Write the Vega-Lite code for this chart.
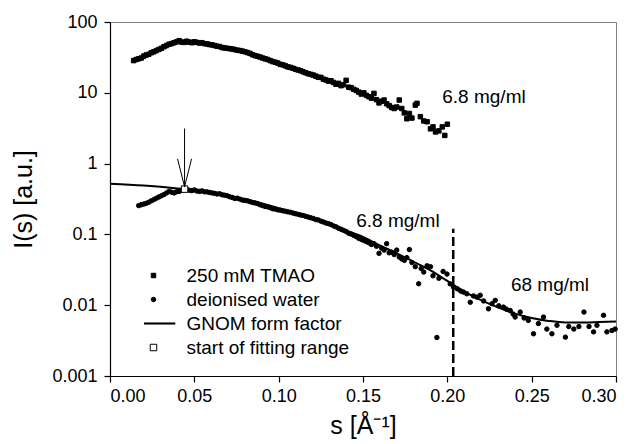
{
  "$schema": "https://vega.github.io/schema/vega-lite/v6.json",
  "autosize": {"type": "none"},
  "width": 506,
  "height": 354,
  "padding": {"left": 110, "top": 22, "right": 19, "bottom": 68},
  "background": "white",
  "config": {
    "view": {"stroke": "#808080", "strokeWidth": 1},
    "font": "Liberation Sans",
    "axis": {
      "domainColor": "black", "domainWidth": 1.2, "tickColor": "black", "tickWidth": 1.2,
      "tickSize": 6, "grid": false, "labelFont": "Liberation Sans", "labelFontSize": 18,
      "labelColor": "black", "titleFont": "Liberation Sans", "titleFontSize": 25,
      "titleFontWeight": "normal", "titleColor": "black"
    },
    "legend": {
      "orient": "none", "legendX": 34, "legendY": 243, "title": null,
      "labelFont": "Liberation Sans", "labelFontSize": 19, "labelColor": "black", "labelLimit": 400,
      "labelOffset": 23.5, "rowPadding": 3, "clipHeight": 21, "symbolSize": 20, "symbolStrokeWidth": 1, "symbolOpacity": 1
    }
  },
  "datasets": {
    "pts": [
      {"series":"250 mM TMAO","s":0.0140,"I":28.5},{"series":"250 mM TMAO","s":0.0155,"I":29.5},{"series":"250 mM TMAO","s":0.0170,"I":30.2},{"series":"250 mM TMAO","s":0.0185,"I":31.0},{"series":"250 mM TMAO","s":0.0200,"I":33.0},
      {"series":"250 mM TMAO","s":0.0215,"I":34.2},{"series":"250 mM TMAO","s":0.0230,"I":35.0},{"series":"250 mM TMAO","s":0.0245,"I":36.8},{"series":"250 mM TMAO","s":0.0260,"I":38.0},{"series":"250 mM TMAO","s":0.0275,"I":39.5},
      {"series":"250 mM TMAO","s":0.0290,"I":41.0},{"series":"250 mM TMAO","s":0.0305,"I":42.5},{"series":"250 mM TMAO","s":0.0320,"I":44.8},{"series":"250 mM TMAO","s":0.0335,"I":46.5},{"series":"250 mM TMAO","s":0.0350,"I":48.5},
      {"series":"250 mM TMAO","s":0.0365,"I":49.5},{"series":"250 mM TMAO","s":0.0380,"I":51.0},{"series":"250 mM TMAO","s":0.0395,"I":52.5},{"series":"250 mM TMAO","s":0.0410,"I":54.5},{"series":"250 mM TMAO","s":0.0425,"I":52.0},
      {"series":"250 mM TMAO","s":0.0440,"I":51.5},{"series":"250 mM TMAO","s":0.0455,"I":53.5},{"series":"250 mM TMAO","s":0.0470,"I":52.0},{"series":"250 mM TMAO","s":0.0485,"I":51.0},{"series":"250 mM TMAO","s":0.0500,"I":52.5},
      {"series":"250 mM TMAO","s":0.0515,"I":51.5},{"series":"250 mM TMAO","s":0.0530,"I":50.5},{"series":"250 mM TMAO","s":0.0545,"I":51.0},{"series":"250 mM TMAO","s":0.0560,"I":49.5},{"series":"250 mM TMAO","s":0.0575,"I":49.0},
      {"series":"250 mM TMAO","s":0.0590,"I":48.0},{"series":"250 mM TMAO","s":0.0605,"I":47.5},{"series":"250 mM TMAO","s":0.0620,"I":46.5},{"series":"250 mM TMAO","s":0.0635,"I":45.5},{"series":"250 mM TMAO","s":0.0650,"I":45.0},
      {"series":"250 mM TMAO","s":0.0665,"I":43.5},{"series":"250 mM TMAO","s":0.0680,"I":43.0},{"series":"250 mM TMAO","s":0.0695,"I":42.5},{"series":"250 mM TMAO","s":0.0710,"I":42.0},{"series":"250 mM TMAO","s":0.0725,"I":41.5},
      {"series":"250 mM TMAO","s":0.0740,"I":40.8},{"series":"250 mM TMAO","s":0.0755,"I":40.0},{"series":"250 mM TMAO","s":0.0770,"I":39.5},{"series":"250 mM TMAO","s":0.0785,"I":38.8},{"series":"250 mM TMAO","s":0.0800,"I":38.0},
      {"series":"250 mM TMAO","s":0.0815,"I":37.0},{"series":"250 mM TMAO","s":0.0830,"I":36.0},{"series":"250 mM TMAO","s":0.0845,"I":34.5},{"series":"250 mM TMAO","s":0.0860,"I":33.5},{"series":"250 mM TMAO","s":0.0875,"I":32.8},
      {"series":"250 mM TMAO","s":0.0890,"I":32.0},{"series":"250 mM TMAO","s":0.0905,"I":31.0},{"series":"250 mM TMAO","s":0.0920,"I":30.2},{"series":"250 mM TMAO","s":0.0935,"I":29.5},{"series":"250 mM TMAO","s":0.0950,"I":28.5},
      {"series":"250 mM TMAO","s":0.0965,"I":27.6},{"series":"250 mM TMAO","s":0.0980,"I":27.0},{"series":"250 mM TMAO","s":0.0995,"I":26.3},{"series":"250 mM TMAO","s":0.1010,"I":25.2},{"series":"250 mM TMAO","s":0.1025,"I":24.8},
      {"series":"250 mM TMAO","s":0.1040,"I":24.0},{"series":"250 mM TMAO","s":0.1055,"I":23.2},{"series":"250 mM TMAO","s":0.1070,"I":22.8},{"series":"250 mM TMAO","s":0.1085,"I":22.2},{"series":"250 mM TMAO","s":0.1100,"I":21.5},
      {"series":"250 mM TMAO","s":0.1115,"I":21.0},{"series":"250 mM TMAO","s":0.1130,"I":20.5},{"series":"250 mM TMAO","s":0.1145,"I":19.8},{"series":"250 mM TMAO","s":0.1160,"I":19.2},{"series":"250 mM TMAO","s":0.1175,"I":18.6},
      {"series":"250 mM TMAO","s":0.1190,"I":18.2},{"series":"250 mM TMAO","s":0.1205,"I":17.8},{"series":"250 mM TMAO","s":0.1220,"I":17.2},{"series":"250 mM TMAO","s":0.1235,"I":16.6},{"series":"250 mM TMAO","s":0.1250,"I":16.5},
      {"series":"250 mM TMAO","s":0.1265,"I":15.6},{"series":"250 mM TMAO","s":0.1280,"I":15.2},{"series":"250 mM TMAO","s":0.1295,"I":14.6},{"series":"250 mM TMAO","s":0.1310,"I":14.8},{"series":"250 mM TMAO","s":0.1325,"I":14.0},
      {"series":"250 mM TMAO","s":0.1340,"I":13.2},{"series":"250 mM TMAO","s":0.1355,"I":13.6},{"series":"250 mM TMAO","s":0.1370,"I":12.6},{"series":"250 mM TMAO","s":0.1385,"I":13.0},{"series":"250 mM TMAO","s":0.1400,"I":15.0},
      {"series":"250 mM TMAO","s":0.1415,"I":12.0},{"series":"250 mM TMAO","s":0.1430,"I":11.8},{"series":"250 mM TMAO","s":0.1445,"I":11.2},{"series":"250 mM TMAO","s":0.1460,"I":10.8},{"series":"250 mM TMAO","s":0.1475,"I":10.2},
      {"series":"250 mM TMAO","s":0.1490,"I":9.6},{"series":"250 mM TMAO","s":0.1505,"I":10.0},{"series":"250 mM TMAO","s":0.1520,"I":9.2},{"series":"250 mM TMAO","s":0.1535,"I":8.8},{"series":"250 mM TMAO","s":0.1550,"I":8.4},
      {"series":"250 mM TMAO","s":0.1565,"I":9.8},{"series":"250 mM TMAO","s":0.1580,"I":8.0},{"series":"250 mM TMAO","s":0.1595,"I":7.2},{"series":"250 mM TMAO","s":0.1610,"I":7.6},{"series":"250 mM TMAO","s":0.1625,"I":7.9},
      {"series":"250 mM TMAO","s":0.1640,"I":7.0},{"series":"250 mM TMAO","s":0.1655,"I":6.6},{"series":"250 mM TMAO","s":0.1670,"I":6.2},{"series":"250 mM TMAO","s":0.1685,"I":6.0},{"series":"250 mM TMAO","s":0.1700,"I":6.3},
      {"series":"250 mM TMAO","s":0.1715,"I":7.9},{"series":"250 mM TMAO","s":0.1730,"I":6.0},{"series":"250 mM TMAO","s":0.1745,"I":5.2},{"series":"250 mM TMAO","s":0.1760,"I":4.3},{"series":"250 mM TMAO","s":0.1775,"I":5.1},
      {"series":"250 mM TMAO","s":0.1790,"I":4.4},{"series":"250 mM TMAO","s":0.1810,"I":6.7},{"series":"250 mM TMAO","s":0.1820,"I":7.1},{"series":"250 mM TMAO","s":0.1840,"I":4.6},{"series":"250 mM TMAO","s":0.1860,"I":4.0},
      {"series":"250 mM TMAO","s":0.1880,"I":3.9},{"series":"250 mM TMAO","s":0.1900,"I":3.1},{"series":"250 mM TMAO","s":0.1915,"I":3.3},{"series":"250 mM TMAO","s":0.1930,"I":2.8},{"series":"250 mM TMAO","s":0.1950,"I":2.9},
      {"series":"250 mM TMAO","s":0.1970,"I":3.3},{"series":"250 mM TMAO","s":0.1985,"I":2.5},{"series":"250 mM TMAO","s":0.2000,"I":3.6},
      {"series":"deionised water","s":0.0170,"I":0.255},{"series":"deionised water","s":0.0185,"I":0.262},{"series":"deionised water","s":0.0200,"I":0.268},{"series":"deionised water","s":0.0215,"I":0.275},{"series":"deionised water","s":0.0230,"I":0.285},
      {"series":"deionised water","s":0.0245,"I":0.298},{"series":"deionised water","s":0.0260,"I":0.310},{"series":"deionised water","s":0.0275,"I":0.325},{"series":"deionised water","s":0.0290,"I":0.338},{"series":"deionised water","s":0.0305,"I":0.352},
      {"series":"deionised water","s":0.0320,"I":0.365},{"series":"deionised water","s":0.0335,"I":0.385},{"series":"deionised water","s":0.0350,"I":0.405},{"series":"deionised water","s":0.0365,"I":0.395},{"series":"deionised water","s":0.0380,"I":0.385},
      {"series":"deionised water","s":0.0395,"I":0.400},{"series":"deionised water","s":0.0410,"I":0.405},{"series":"deionised water","s":0.0425,"I":0.420},{"series":"deionised water","s":0.0455,"I":0.430},{"series":"deionised water","s":0.0470,"I":0.420},
      {"series":"deionised water","s":0.0485,"I":0.415},{"series":"deionised water","s":0.0500,"I":0.425},{"series":"deionised water","s":0.0515,"I":0.410},{"series":"deionised water","s":0.0530,"I":0.405},{"series":"deionised water","s":0.0545,"I":0.412},
      {"series":"deionised water","s":0.0560,"I":0.400},{"series":"deionised water","s":0.0575,"I":0.398},{"series":"deionised water","s":0.0590,"I":0.392},{"series":"deionised water","s":0.0605,"I":0.385},{"series":"deionised water","s":0.0620,"I":0.380},
      {"series":"deionised water","s":0.0635,"I":0.372},{"series":"deionised water","s":0.0650,"I":0.375},{"series":"deionised water","s":0.0665,"I":0.362},{"series":"deionised water","s":0.0680,"I":0.358},{"series":"deionised water","s":0.0695,"I":0.352},
      {"series":"deionised water","s":0.0710,"I":0.340},{"series":"deionised water","s":0.0725,"I":0.332},{"series":"deionised water","s":0.0740,"I":0.322},{"series":"deionised water","s":0.0755,"I":0.325},{"series":"deionised water","s":0.0770,"I":0.315},
      {"series":"deionised water","s":0.0785,"I":0.305},{"series":"deionised water","s":0.0800,"I":0.302},{"series":"deionised water","s":0.0815,"I":0.298},{"series":"deionised water","s":0.0830,"I":0.290},{"series":"deionised water","s":0.0845,"I":0.282},
      {"series":"deionised water","s":0.0860,"I":0.278},{"series":"deionised water","s":0.0875,"I":0.272},{"series":"deionised water","s":0.0890,"I":0.262},{"series":"deionised water","s":0.0905,"I":0.255},{"series":"deionised water","s":0.0920,"I":0.248},
      {"series":"deionised water","s":0.0935,"I":0.245},{"series":"deionised water","s":0.0950,"I":0.238},{"series":"deionised water","s":0.0965,"I":0.230},{"series":"deionised water","s":0.0980,"I":0.228},{"series":"deionised water","s":0.0995,"I":0.222},
      {"series":"deionised water","s":0.1010,"I":0.220},{"series":"deionised water","s":0.1025,"I":0.215},{"series":"deionised water","s":0.1040,"I":0.212},{"series":"deionised water","s":0.1055,"I":0.208},{"series":"deionised water","s":0.1070,"I":0.205},
      {"series":"deionised water","s":0.1085,"I":0.200},{"series":"deionised water","s":0.1100,"I":0.196},{"series":"deionised water","s":0.1115,"I":0.192},{"series":"deionised water","s":0.1130,"I":0.188},{"series":"deionised water","s":0.1145,"I":0.185},
      {"series":"deionised water","s":0.1160,"I":0.180},{"series":"deionised water","s":0.1175,"I":0.176},{"series":"deionised water","s":0.1190,"I":0.172},{"series":"deionised water","s":0.1205,"I":0.168},{"series":"deionised water","s":0.1220,"I":0.162},
      {"series":"deionised water","s":0.1235,"I":0.160},{"series":"deionised water","s":0.1250,"I":0.154},{"series":"deionised water","s":0.1265,"I":0.150},{"series":"deionised water","s":0.1280,"I":0.145},{"series":"deionised water","s":0.1295,"I":0.142},
      {"series":"deionised water","s":0.1310,"I":0.138},{"series":"deionised water","s":0.1325,"I":0.132},{"series":"deionised water","s":0.1340,"I":0.128},{"series":"deionised water","s":0.1355,"I":0.122},{"series":"deionised water","s":0.1370,"I":0.118},
      {"series":"deionised water","s":0.1385,"I":0.114},{"series":"deionised water","s":0.1400,"I":0.110},{"series":"deionised water","s":0.1415,"I":0.104},{"series":"deionised water","s":0.1430,"I":0.101},{"series":"deionised water","s":0.1445,"I":0.097},
      {"series":"deionised water","s":0.1460,"I":0.093},{"series":"deionised water","s":0.1475,"I":0.088},{"series":"deionised water","s":0.1490,"I":0.085},{"series":"deionised water","s":0.1505,"I":0.082},{"series":"deionised water","s":0.1520,"I":0.079},
      {"series":"deionised water","s":0.1535,"I":0.076},{"series":"deionised water","s":0.1550,"I":0.072},{"series":"deionised water","s":0.1565,"I":0.074},{"series":"deionised water","s":0.1580,"I":0.068},{"series":"deionised water","s":0.1595,"I":0.054},
      {"series":"deionised water","s":0.1610,"I":0.064},{"series":"deionised water","s":0.1625,"I":0.060},{"series":"deionised water","s":0.1640,"I":0.074},{"series":"deionised water","s":0.1655,"I":0.055},{"series":"deionised water","s":0.1670,"I":0.056},
      {"series":"deionised water","s":0.1685,"I":0.052},{"series":"deionised water","s":0.1700,"I":0.060},{"series":"deionised water","s":0.1715,"I":0.048},{"series":"deionised water","s":0.1730,"I":0.045},{"series":"deionised water","s":0.1745,"I":0.043},
      {"series":"deionised water","s":0.1760,"I":0.047},{"series":"deionised water","s":0.1775,"I":0.061},{"series":"deionised water","s":0.1790,"I":0.040},{"series":"deionised water","s":0.1810,"I":0.035},{"series":"deionised water","s":0.1830,"I":0.0201},
      {"series":"deionised water","s":0.1845,"I":0.033},{"series":"deionised water","s":0.1860,"I":0.0294},{"series":"deionised water","s":0.1880,"I":0.036},{"series":"deionised water","s":0.1900,"I":0.035},{"series":"deionised water","s":0.1915,"I":0.026},
      {"series":"deionised water","s":0.1938,"I":0.0035},{"series":"deionised water","s":0.1950,"I":0.024},{"series":"deionised water","s":0.1975,"I":0.030},{"series":"deionised water","s":0.1998,"I":0.0275},{"series":"deionised water","s":0.2017,"I":0.020},
      {"series":"deionised water","s":0.2037,"I":0.018},{"series":"deionised water","s":0.2060,"I":0.017},{"series":"deionised water","s":0.2080,"I":0.0158},{"series":"deionised water","s":0.2096,"I":0.0153},{"series":"deionised water","s":0.2115,"I":0.0145},
      {"series":"deionised water","s":0.2136,"I":0.011},{"series":"deionised water","s":0.2155,"I":0.0135},{"series":"deionised water","s":0.2175,"I":0.013},{"series":"deionised water","s":0.2195,"I":0.0138},{"series":"deionised water","s":0.2215,"I":0.0115},
      {"series":"deionised water","s":0.2244,"I":0.0089},{"series":"deionised water","s":0.2265,"I":0.0105},{"series":"deionised water","s":0.2284,"I":0.0117},{"series":"deionised water","s":0.2305,"I":0.0098},{"series":"deionised water","s":0.2333,"I":0.0094},
      {"series":"deionised water","s":0.2350,"I":0.0088},{"series":"deionised water","s":0.2373,"I":0.0084},{"series":"deionised water","s":0.2390,"I":0.0075},{"series":"deionised water","s":0.2402,"I":0.0068},{"series":"deionised water","s":0.2432,"I":0.0080},
      {"series":"deionised water","s":0.2455,"I":0.0066},{"series":"deionised water","s":0.2480,"I":0.0061},{"series":"deionised water","s":0.2511,"I":0.00395},{"series":"deionised water","s":0.2540,"I":0.0055},{"series":"deionised water","s":0.2570,"I":0.0068},
      {"series":"deionised water","s":0.2590,"I":0.0046},{"series":"deionised water","s":0.2620,"I":0.00395},{"series":"deionised water","s":0.2650,"I":0.0052},{"series":"deionised water","s":0.2700,"I":0.00354},{"series":"deionised water","s":0.2720,"I":0.0050},
      {"series":"deionised water","s":0.2750,"I":0.0046},{"series":"deionised water","s":0.2780,"I":0.0050},{"series":"deionised water","s":0.2810,"I":0.0080},{"series":"deionised water","s":0.2840,"I":0.0050},{"series":"deionised water","s":0.2867,"I":0.0042},
      {"series":"deionised water","s":0.2887,"I":0.0052},{"series":"deionised water","s":0.2926,"I":0.0072},{"series":"deionised water","s":0.2946,"I":0.0042},{"series":"deionised water","s":0.2976,"I":0.0044},{"series":"deionised water","s":0.2995,"I":0.0046},
      {"series":"start of fitting range","s":0.0442,"I":0.436}
    ],
    "gnom": [
      {"s":0.000,"I":0.52},{"s":0.020,"I":0.49},{"s":0.040,"I":0.445},{"s":0.060,"I":0.39},{"s":0.080,"I":0.315},
      {"s":0.100,"I":0.235},{"s":0.120,"I":0.172},{"s":0.140,"I":0.113},{"s":0.150,"I":0.092},{"s":0.160,"I":0.070},
      {"s":0.170,"I":0.054},{"s":0.180,"I":0.041},{"s":0.190,"I":0.031},{"s":0.200,"I":0.022},{"s":0.210,"I":0.0155},
      {"s":0.220,"I":0.0118},{"s":0.230,"I":0.0093},{"s":0.240,"I":0.0076},{"s":0.250,"I":0.0066},{"s":0.260,"I":0.0060},
      {"s":0.270,"I":0.0057},{"s":0.280,"I":0.0057},{"s":0.290,"I":0.0058},{"s":0.300,"I":0.0059}
    ],
    "arrow": [{"s":0.0442,"I":3.13,"I2":0.47}],
    "cutoff": [{"s":0.2035,"I":0.001,"I2":0.12}],
    "labels": [
      {"s":0.197,"I":7.1,"label":"6.8 mg/ml"},
      {"s":0.146,"I":0.127,"label":"6.8 mg/ml"},
      {"s":0.2377,"I":0.0157,"label":"68 mg/ml"}
    ]
  },
  "encoding": {
    "x": {"field": "s", "type": "quantitative",
      "scale": {"domain": [0, 0.3], "nice": false, "zero": false},
      "axis": {"values": [0, 0.05, 0.1, 0.15, 0.2, 0.25, 0.3], "format": ".2f", "labelPadding": 5,
        "title": "s [Å⁻¹]", "titleY": 57, "titleBaseline": "alphabetic"}},
    "y": {"field": "I", "type": "quantitative",
      "scale": {"type": "log", "domain": [0.001, 100], "nice": false},
      "axis": {"values": [0.001, 0.01, 0.1, 1, 10, 100], "format": "~g", "labelPadding": 7,
        "title": "I(s) [a.u.]", "titleX": -78.5, "titleY": 177, "titleAngle": -90,
        "titleAlign": "center", "titleBaseline": "alphabetic"}}
  },
  "layer": [
    {"data": {"name": "cutoff"},
     "mark": {"type": "rule", "color": "black", "strokeWidth": 2.5, "strokeDash": [9, 4]},
     "encoding": {"y2": {"field": "I2"}}},
    {"data": {"name": "gnom"},
     "mark": {"type": "line", "color": "black", "strokeWidth": 2, "interpolate": "monotone"},
     "encoding": {}},
    {"data": {"name": "pts"},
     "mark": {"type": "point", "filled": true, "size": 20, "strokeWidth": 1, "opacity": 1},
     "encoding": {
       "shape": {"field": "series", "type": "nominal",
         "scale": {"domain": ["250 mM TMAO", "deionised water", "GNOM form factor", "start of fitting range"],
                   "range": ["square", "circle", "M -9.6 -0.25 L 9.6 -0.25 L 9.6 0.25 L -9.6 0.25 Z", "M -1.45 -1.45 L 1.45 -1.45 L 1.45 1.45 L -1.45 1.45 Z"]}},
       "fill": {"field": "series", "type": "nominal",
         "scale": {"domain": ["250 mM TMAO", "deionised water", "GNOM form factor", "start of fitting range"],
                   "range": ["black", "black", "black", "white"]}},
       "stroke": {"field": "series", "type": "nominal",
         "scale": {"domain": ["250 mM TMAO", "deionised water", "GNOM form factor", "start of fitting range"],
                   "range": ["black", "black", "black", "black"]}}
     }},
    {"data": {"name": "arrow"},
     "mark": {"type": "rule", "color": "black", "strokeWidth": 1},
     "encoding": {"y2": {"field": "I2"}}},
    {"data": {"name": "arrow"},
     "mark": {"type": "point", "shape": "M -0.5 -2 L 0 0 L 0.5 -2", "filled": false, "stroke": "black", "strokeWidth": 1, "size": 784, "opacity": 1},
     "encoding": {"y": {"field": "I2", "type": "quantitative"}}},
    {"data": {"name": "labels"},
     "mark": {"type": "text", "align": "left", "baseline": "alphabetic", "font": "Liberation Sans", "fontSize": 19, "color": "black"},
     "encoding": {"text": {"field": "label"}}}
  ]
}
